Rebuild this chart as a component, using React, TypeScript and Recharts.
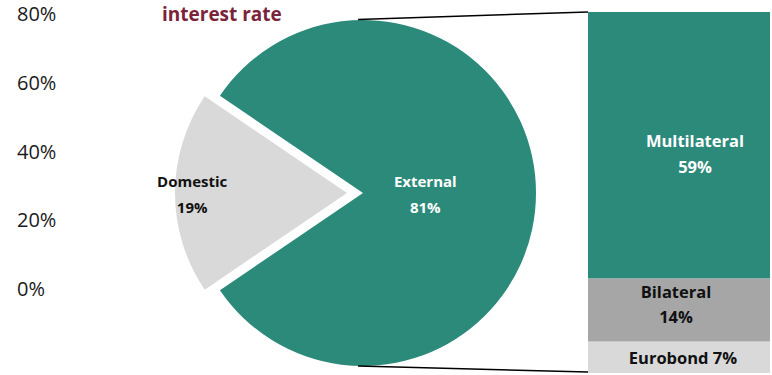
import React from 'react';
import { PieChart, Pie, Cell, BarChart, Bar, XAxis, YAxis, LabelList } from 'recharts';

const pieCategories = ['External', 'Domestic'];
const pieValues = [81, 19];
const barCategories = ['Eurobond', 'Bilateral', 'Multilateral'];
const barValues = [7, 14, 59];
const axisTicks = [0, 20, 40, 60, 80];
const titleText = 'interest rate';

const TEAL = '#2C8A7B';
const LIGHT = '#D9D9D9';
const MID = '#A6A6A6';
const FONT = "'Open Sans', 'Noto Sans', sans-serif";

const pieData = pieCategories.map((name, i) => ({ name, value: pieValues[i] }));
const barRow: Record<string, any> = { name: 'External debt' };
barCategories.forEach((c, i) => { barRow[c] = barValues[i]; });
const barData = [barRow];
const axisData = [{ name: 'a', v: 0 }];

const PIE_CX = 363;
const PIE_CY = 193;
const PIE_R = 173;
const EXPLODE = 16;
const BAR_LEFT = 588;
const BAR_TOP = 12;
const BAR_W = 182;
const BAR_H = 361;

const total = pieValues.reduce((a, b) => a + b, 0);
const domesticSweep = (pieValues[1] / total) * 360;
const START = 180 - domesticSweep / 2;
const END = START - 360;

const RAD = Math.PI / 180;
const pieLabelStyle: Record<string, { frac: number; color: string }> = {
  External: { frac: 0.36, color: '#ffffff' },
  Domestic: { frac: 0.9, color: '#111111' },
};

const makePieLabel = (visible: string) => (props: any) => {
  const { cx, cy, midAngle, outerRadius, name, value } = props;
  if (name !== visible) return null;
  const st = pieLabelStyle[name];
  const r = outerRadius * st.frac;
  const x = cx + r * Math.cos(-midAngle * RAD);
  const y = cy + r * Math.sin(-midAngle * RAD);
  return (
    <text x={x} y={y} textAnchor="middle" fill={st.color} fontFamily={FONT} fontWeight={700} fontSize={15}>
      <tspan x={x} dy={-6}>{name}</tspan>
      <tspan x={x} dy={26}>{value}%</tspan>
    </text>
  );
};

const barLabelStyle: Record<string, { color: string; dx: number; dy: number; oneLine: boolean }> = {
  Multilateral: { color: '#ffffff', dx: 16, dy: 2, oneLine: false },
  Bilateral: { color: '#111111', dx: -3, dy: -12, oneLine: false },
  Eurobond: { color: '#111111', dx: 4, dy: 7, oneLine: true },
};

const makeBarLabel = (key: string) => (props: any) => {
  const { x, y, width, height, value } = props;
  const st = barLabelStyle[key];
  const cx = x + width / 2 + st.dx;
  const cy = y + height / 2;
  if (st.oneLine) {
    return (
      <text x={cx} y={cy} dy={st.dy} textAnchor="middle" fill={st.color} fontFamily={FONT} fontWeight={700} fontSize={16.5}>
        {`${key} ${value}%`}
      </text>
    );
  }
  return (
    <text x={cx} y={cy} textAnchor="middle" fill={st.color} fontFamily={FONT} fontWeight={700} fontSize={16.5}>
      <tspan x={cx} dy={st.dy}>{key}</tspan>
      <tspan x={cx} dy={25.5}>{value}%</tspan>
    </text>
  );
};

const AxisTick = (props: any) => {
  const { y, payload } = props;
  return (
    <text x={17} y={y} dy={8} textAnchor="start" fill="#1a1a1a" fontFamily={FONT} fontSize={20}>
      {`${payload.value}%`}
    </text>
  );
};

const barColors: Record<string, string> = { Multilateral: TEAL, Bilateral: MID, Eurobond: LIGHT };

export default function App() {
  return (
    <div style={{ position: 'absolute', left: 0, top: 0, width: 772, height: 375, background: '#fff', overflow: 'hidden' }}>
      <div style={{ position: 'absolute', left: 0, top: 0 }}>
        <BarChart width={100} height={330} data={axisData} margin={{ top: 13, right: 0, bottom: 42, left: 0 }}>
          <XAxis dataKey="name" hide />
          <YAxis domain={[0, 80]} ticks={axisTicks} axisLine={false} tickLine={false} width={70} tick={<AxisTick />} interval={0} />
          <Bar dataKey="v" fill="transparent" isAnimationActive={false} />
        </BarChart>
      </div>
      <div style={{ position: 'absolute', left: 0, top: 0 }}>
        <PieChart width={772} height={375} margin={{ top: 0, right: 0, bottom: 0, left: 0 }}>
          <Pie
            data={pieData}
            dataKey="value"
            nameKey="name"
            cx={PIE_CX}
            cy={PIE_CY}
            outerRadius={PIE_R}
            startAngle={START}
            endAngle={END}
            stroke="none"
            labelLine={false}
            label={makePieLabel('External')}
            isAnimationActive={false}
          >
            <Cell fill={TEAL} />
            <Cell fill="transparent" />
          </Pie>
          <Pie
            data={pieData}
            dataKey="value"
            nameKey="name"
            cx={PIE_CX - EXPLODE}
            cy={PIE_CY}
            outerRadius={PIE_R - 1}
            startAngle={START}
            endAngle={END}
            stroke="none"
            labelLine={false}
            label={makePieLabel('Domestic')}
            isAnimationActive={false}
          >
            <Cell fill="transparent" />
            <Cell fill={LIGHT} />
          </Pie>
        </PieChart>
      </div>
      <div style={{ position: 'absolute', left: BAR_LEFT, top: BAR_TOP }}>
        <BarChart width={BAR_W} height={BAR_H} data={barData} margin={{ top: 0, right: 0, bottom: 0, left: 0 }} barCategoryGap={0}>
          <XAxis dataKey="name" hide />
          <YAxis domain={[0, 80]} hide />
          {barCategories.map((c) => (
            <Bar key={c} dataKey={c} stackId="s" fill={barColors[c]} isAnimationActive={false}>
              <LabelList dataKey={c} content={makeBarLabel(c)} />
            </Bar>
          ))}
        </BarChart>
      </div>
      <svg width={772} height={375} style={{ position: 'absolute', left: 0, top: 0, pointerEvents: 'none' }}>
        <line x1={PIE_CX - 5} y1={PIE_CY - PIE_R - 0.5} x2={BAR_LEFT} y2={BAR_TOP} stroke="#000" strokeWidth={1.5} />
        <line x1={PIE_CX - 5} y1={PIE_CY + PIE_R} x2={BAR_LEFT} y2={BAR_TOP + BAR_H - 1} stroke="#000" strokeWidth={1.5} />
        <text x={162} y={21} fill="#7B2339" fontFamily={FONT} fontWeight={700} fontSize={19}>{titleText}</text>
      </svg>
    </div>
  );
}
